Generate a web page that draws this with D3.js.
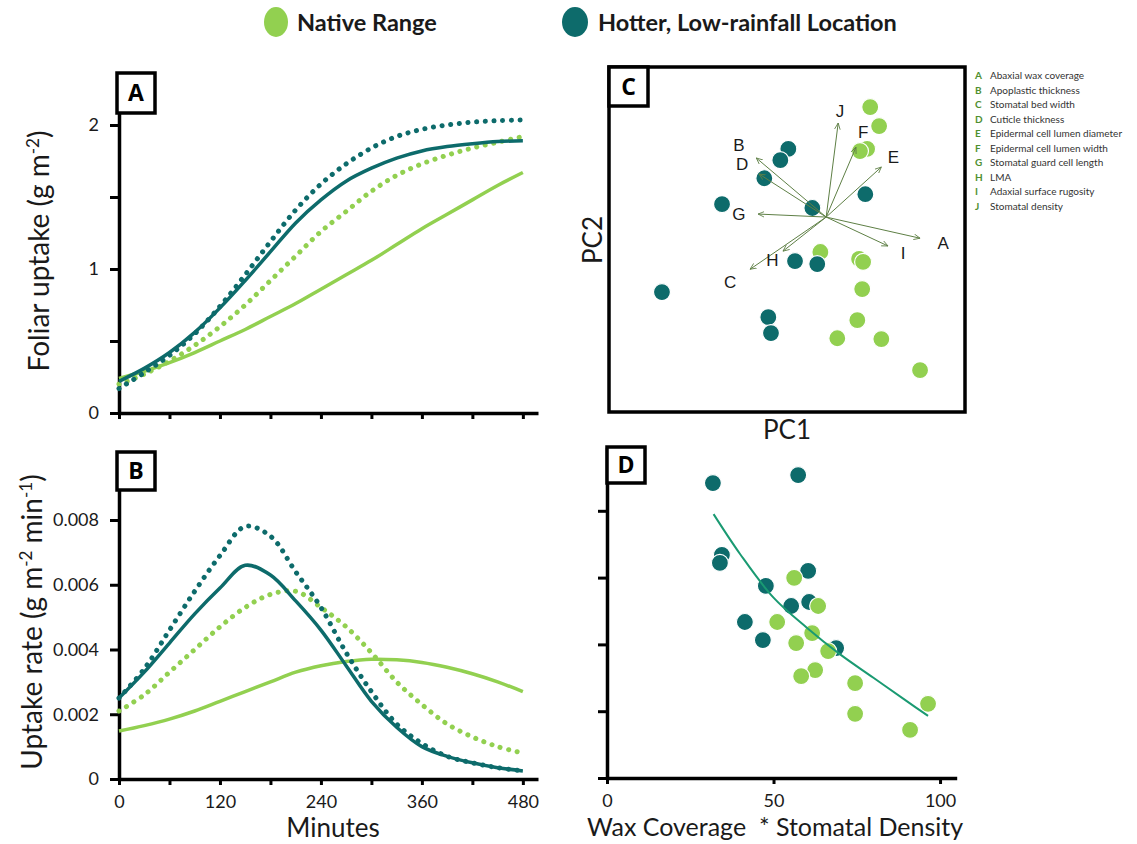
<!DOCTYPE html>
<html>
<head>
<meta charset="utf-8">
<script src="https://cdn.jsdelivr.net/npm/d3@7"></script>
<style>
  body { margin: 0; background: #fff; }
</style>
</head>
<body>
<div id="chart"></div>
<script>
// ---- data ----
const minutes = [0, 30, 60, 90, 120, 150, 180, 210, 240, 270, 300, 330, 360, 390, 420, 450, 480];
const minuteTicks = [0, 60, 120, 180, 240, 300, 360, 420, 480];

// A: foliar uptake (g m-2)
const nativeSolidA  = [0.24, 0.29, 0.35, 0.42, 0.50, 0.58, 0.67, 0.76, 0.86, 0.96, 1.06, 1.17, 1.28, 1.38, 1.48, 1.58, 1.67];
const nativeDottedA = [0.20, 0.27, 0.36, 0.47, 0.60, 0.75, 0.92, 1.09, 1.26, 1.40, 1.54, 1.65, 1.73, 1.79, 1.84, 1.88, 1.92];
const hotterSolidA  = [0.22, 0.31, 0.42, 0.56, 0.73, 0.92, 1.12, 1.32, 1.48, 1.61, 1.70, 1.77, 1.82, 1.85, 1.87, 1.885, 1.89];
const hotterDottedA = [0.17, 0.28, 0.40, 0.55, 0.74, 0.96, 1.19, 1.41, 1.59, 1.73, 1.84, 1.92, 1.97, 2.00, 2.02, 2.03, 2.035];
const ticksA = [0, 0.5, 1, 1.5, 2];

// B: uptake rate (g m-2 min-1)
const nativeSolidB  = [0.00148, 0.00165, 0.00185, 0.0021, 0.0024, 0.0027, 0.0030, 0.0033, 0.0035, 0.00363, 0.0037, 0.00368, 0.0036, 0.00345, 0.00325, 0.0030, 0.0027];
const nativeDottedB = [0.0021, 0.0026, 0.0033, 0.0040, 0.0047, 0.0053, 0.0057, 0.0058, 0.0053, 0.0047, 0.0039, 0.0030, 0.0023, 0.0017, 0.0013, 0.0010, 0.0008];
const hotterSolidB  = [0.0025, 0.0033, 0.0042, 0.0051, 0.0059, 0.0066, 0.0063, 0.0055, 0.0046, 0.0035, 0.0024, 0.0016, 0.0010, 0.0007, 0.0005, 0.00035, 0.00025];
const hotterDottedB = [0.0025, 0.0034, 0.0046, 0.0058, 0.0069, 0.0078, 0.0075, 0.0064, 0.0053, 0.0039, 0.0027, 0.0017, 0.0011, 0.0007, 0.0005, 0.00035, 0.00025];
const ticksB = [0, 0.002, 0.004, 0.006, 0.008];

// C: PCA scores and loadings
const nativePC1 = [0.92, 0.99, 1.19, 0.76, -0.13, 0.74, 0.83, 0.81, 0.70, 0.25, 1.24, 2.11];
const nativePC2 = [1.58, 2.55, 2.11, 1.53, -0.81, -0.97, -1.04, -1.67, -2.39, -2.81, -2.83, -3.55];
const hotterPC1 = [-0.85, -1.03, -1.39, -2.34, -0.31, 0.88, -0.70, -0.20, -3.69, -1.30, -1.24];
const hotterPC2 = [1.58, 1.32, 0.90, 0.30, 0.21, 0.53, -1.02, -1.09, -1.74, -2.32, -2.69];
const traitCodes = ["A", "B", "C", "D", "E", "F", "G", "H", "I", "J"];
const traitNames = ["Abaxial wax coverage", "Apoplastic thickness", "Stomatal bed width", "Cuticle thickness",
  "Epidermal cell lumen diameter", "Epidermal cell lumen width", "Stomatal guard cell length", "LMA",
  "Adaxial surface rugosity", "Stomatal density"];
const loadPC1 = [2.11, -1.57, -1.71, -1.51, 1.24, 0.67, -1.53, -0.97, 1.39, 0.27];
const loadPC2 = [-0.49, 1.37, -1.21, 1.00, 1.16, 1.62, 0.07, -0.79, -0.67, 2.18];
const labelPC1 = [2.63, -1.96, -2.16, -1.89, 1.51, 0.83, -1.96, -1.21, 1.73, 0.31];
const labelPC2 = [-0.60, 1.67, -1.51, 1.23, 1.39, 1.97, 0.07, -1.00, -0.83, 2.46];

// D: uptake rate vs wax coverage * stomatal density
const hotterWax  = [31.8, 57.4, 34.5, 33.9, 60.4, 47.7, 55.3, 60.7, 41.4, 46.8, 68.8];
const hotterRate = [0.00883, 0.00907, 0.00668, 0.00644, 0.00620, 0.00575, 0.00515, 0.00527, 0.00467, 0.00413, 0.00389];
const nativeWax  = [56.2, 63.4, 51.1, 61.6, 56.8, 66.4, 62.5, 58.3, 74.5, 74.5, 91.0, 96.4];
const nativeRate = [0.00599, 0.00515, 0.00467, 0.00434, 0.00404, 0.00380, 0.00323, 0.00305, 0.00284, 0.00192, 0.00144, 0.00222];
const fitWax  = [32, 40, 50, 60, 70, 80, 90, 96.4];
const fitRate = [0.0079, 0.0067, 0.0054, 0.0045, 0.0037, 0.0030, 0.0023, 0.00186];
const ticksD = [0, 0.002, 0.004, 0.006, 0.008];
const waxTicks = [0, 50, 100];

const GREEN = "#92d050";
const TEAL = "#0d6b6b";
const FONT = "Lato, 'Open Sans', sans-serif";

const svg = d3.select("#chart")
    .append("svg")
    .attr("width", 1137)
    .attr("height", 844)
    .style("font-family", FONT);

function styleAxis(g) {
    g.select(".domain").attr("stroke", "#000").attr("stroke-width", 3.5);
    g.selectAll(".tick line").attr("stroke", "#000").attr("stroke-width", 3);
    g.selectAll(".tick text")
        .attr("font-family", FONT)
        .attr("font-size", 18)
        .attr("fill", "#1a1a1a");
}

function panelTag(x, y, w, h, letter) {
    svg.append("rect")
        .attr("x", x).attr("y", y).attr("width", w).attr("height", h)
        .attr("fill", "#fff").attr("stroke", "#000").attr("stroke-width", 3.5);
    svg.append("text")
        .attr("x", x + w / 2).attr("y", y + h / 2 + 8)
        .attr("text-anchor", "middle")
        .attr("font-size", 23).attr("font-weight", "bold")
        .attr("font-family", "'Open Sans', sans-serif")
        .text(letter);
}

function drawCurve(values, x, y, color, dotted) {
    const line = d3.line()
        .x((d, i) => x(minutes[i]))
        .y(d => y(d))
        .curve(d3.curveCatmullRom.alpha(0.5));
    const path = svg.append("path")
        .datum(values)
        .attr("fill", "none")
        .attr("stroke", color)
        .attr("d", line);
    if (dotted) {
        path.attr("stroke-width", 5)
            .attr("stroke-linecap", "round")
            .attr("stroke-dasharray", "0.1 8.6");
    } else {
        path.attr("stroke-width", 3.5);
    }
}

// ---- top legend ----
svg.append("ellipse").attr("cx", 276).attr("cy", 22).attr("rx", 12).attr("ry", 15).attr("fill", GREEN);
svg.append("text").attr("x", 297).attr("y", 31).attr("font-size", 23.5).attr("font-weight", "bold")
    .attr("fill", "#1a1a1a").text("Native Range");
svg.append("ellipse").attr("cx", 575).attr("cy", 22).attr("rx", 13).attr("ry", 15).attr("fill", TEAL);
svg.append("text").attr("x", 598).attr("y", 31).attr("font-size", 23.5).attr("font-weight", "bold")
    .attr("fill", "#1a1a1a").text("Hotter, Low-rainfall Location");

// ---- panel A ----
const xTime = d3.scaleLinear().domain([0, 498]).range([119, 538]);
const yA = d3.scaleLinear().domain([0, 2.3]).range([413, 81.8]);

svg.append("g")
    .attr("transform", "translate(0,413)")
    .call(d3.axisBottom(xTime).tickValues(minuteTicks).tickSize(6).tickSizeOuter(0).tickFormat(""))
    .call(styleAxis);
svg.append("g")
    .attr("transform", "translate(119,0)")
    .call(d3.axisLeft(yA).tickValues(ticksA).tickSize(9).tickPadding(11).tickSizeOuter(0)
        .tickFormat(d => Number.isInteger(d) ? d : ""))
    .call(styleAxis);

drawCurve(nativeSolidA, xTime, yA, GREEN, false);
drawCurve(nativeDottedA, xTime, yA, GREEN, true);
drawCurve(hotterSolidA, xTime, yA, TEAL, false);
drawCurve(hotterDottedA, xTime, yA, TEAL, true);
panelTag(117, 73, 38, 40, "A");

const titleA = svg.append("text")
    .attr("transform", "translate(49,251) rotate(-90)")
    .attr("text-anchor", "middle")
    .attr("font-size", 28).attr("fill", "#1a1a1a");
titleA.append("tspan").text("Foliar uptake (g m");
titleA.append("tspan").attr("dy", -10).attr("font-size", 17).text("-2");
titleA.append("tspan").attr("dy", 10).text(")");

// ---- panel B ----
const yB = d3.scaleLinear().domain([0, 0.0099]).range([779, 779 - 0.0099 * 32375]);

svg.append("g")
    .attr("transform", "translate(0,779)")
    .call(d3.axisBottom(xTime).tickValues(minuteTicks).tickSize(6).tickPadding(10).tickSizeOuter(0)
        .tickFormat(d => d % 120 === 0 ? d : ""))
    .call(styleAxis);
svg.append("g")
    .attr("transform", "translate(119,0)")
    .call(d3.axisLeft(yB).tickValues(ticksB).tickSize(9).tickPadding(11).tickSizeOuter(0)
        .tickFormat(d => d === 0 ? "0" : d3.format(".3f")(d)))
    .call(styleAxis);

drawCurve(nativeSolidB, xTime, yB, GREEN, false);
drawCurve(nativeDottedB, xTime, yB, GREEN, true);
drawCurve(hotterSolidB, xTime, yB, TEAL, false);
drawCurve(hotterDottedB, xTime, yB, TEAL, true);
panelTag(117, 452, 38, 38, "B");

const titleB = svg.append("text")
    .attr("transform", "translate(42,622) rotate(-90)")
    .attr("text-anchor", "middle")
    .attr("font-size", 28).attr("fill", "#1a1a1a");
titleB.append("tspan").text("Uptake rate (g m");
titleB.append("tspan").attr("dy", -10).attr("font-size", 17).text("-2");
titleB.append("tspan").attr("dy", 10).text(" min");
titleB.append("tspan").attr("dy", -10).attr("font-size", 17).text("-1");
titleB.append("tspan").attr("dy", 10).text(")");

svg.append("text").attr("x", 333).attr("y", 837).attr("text-anchor", "middle")
    .attr("font-size", 26).attr("fill", "#1a1a1a").text("Minutes");

// ---- panel C ----
const xPC = d3.scaleLinear().domain([-4.88, 3.12]).range([609, 965]);
const yPC = d3.scaleLinear().domain([-4.52, 3.48]).range([412, 67]);

svg.append("rect")
    .attr("x", xPC.range()[0]).attr("y", yPC.range()[1])
    .attr("width", xPC.range()[1] - xPC.range()[0])
    .attr("height", yPC.range()[0] - yPC.range()[1])
    .attr("fill", "none").attr("stroke", "#000").attr("stroke-width", 3.5);

svg.append("defs").append("marker")
    .attr("id", "arrow")
    .attr("viewBox", "0 0 10 10")
    .attr("refX", 9).attr("refY", 5)
    .attr("markerWidth", 7).attr("markerHeight", 7)
    .attr("markerUnits", "userSpaceOnUse")
    .attr("orient", "auto")
    .append("path")
    .attr("d", "M0,1 L9,5 L0,9")
    .attr("fill", "none").attr("stroke", "#5e7f45").attr("stroke-width", 1.2);

function drawScores(pc1, pc2, color) {
    svg.append("g").selectAll("circle")
        .data(pc1)
        .enter()
        .append("circle")
        .attr("cx", d => xPC(d))
        .attr("cy", (d, i) => yPC(pc2[i]))
        .attr("r", 8.5)
        .attr("fill", color)
        .attr("stroke", "#fff").attr("stroke-width", 1.2);
}
drawScores(nativePC1, nativePC2, GREEN);
drawScores(hotterPC1, hotterPC2, TEAL);

svg.append("g").selectAll("line")
    .data(loadPC1)
    .enter()
    .append("line")
    .attr("x1", xPC(0)).attr("y1", yPC(0))
    .attr("x2", d => xPC(d))
    .attr("y2", (d, i) => yPC(loadPC2[i]))
    .attr("stroke", "#5e7f45").attr("stroke-width", 1)
    .attr("marker-end", "url(#arrow)");

svg.append("g").selectAll("text")
    .data(traitCodes)
    .enter()
    .append("text")
    .attr("x", (d, i) => xPC(labelPC1[i]))
    .attr("y", (d, i) => yPC(labelPC2[i]) + 6)
    .attr("text-anchor", "middle")
    .attr("font-family", "'Liberation Sans', Arial, sans-serif")
    .attr("font-size", 17)
    .attr("fill", "#1a1a1a")
    .text(d => d);

panelTag(609, 67, 39, 39, "C");

svg.append("text").attr("transform", "translate(602,240) rotate(-90)").attr("text-anchor", "middle")
    .attr("font-size", 26).attr("fill", "#1a1a1a").text("PC2");
svg.append("text").attr("x", 787).attr("y", 439).attr("text-anchor", "middle")
    .attr("font-size", 26).attr("fill", "#1a1a1a").text("PC1");

const traitLegend = svg.append("g").attr("font-size", 10);
traitCodes.forEach((code, i) => {
    const y = 79 + i * 14.5;
    traitLegend.append("text").attr("x", 975).attr("y", y)
        .attr("fill", "#4f8f2f").attr("font-weight", "bold").text(code);
    traitLegend.append("text").attr("x", 990).attr("y", y)
        .attr("fill", "#333").text(traitNames[i]);
});

// ---- panel D ----
const xD = d3.scaleLinear().domain([0, 105]).range([607, 956.7]);
const yD = d3.scaleLinear().domain([0, 0.0099]).range([778, 778 - 0.0099 * 33400]);

svg.append("g")
    .attr("transform", "translate(0,778)")
    .call(d3.axisBottom(xD).tickValues(waxTicks).tickSize(6).tickPadding(10).tickSizeOuter(0))
    .call(styleAxis);
svg.append("g")
    .attr("transform", "translate(607,0)")
    .call(d3.axisLeft(yD).tickValues(ticksD).tickSize(9).tickSizeOuter(0).tickFormat(""))
    .call(styleAxis);

function drawD(xs, ys, color) {
    svg.append("g").selectAll("circle")
        .data(xs)
        .enter()
        .append("circle")
        .attr("cx", d => xD(d))
        .attr("cy", (d, i) => yD(ys[i]))
        .attr("r", 8.5)
        .attr("fill", color)
        .attr("stroke", "#fff").attr("stroke-width", 1.2);
}
drawD(hotterWax, hotterRate, TEAL);
drawD(nativeWax, nativeRate, GREEN);

svg.append("path")
    .datum(fitWax)
    .attr("fill", "none")
    .attr("stroke", "#1a9a72")
    .attr("stroke-width", 2)
    .attr("d", d3.line().x(d => xD(d)).y((d, i) => yD(fitRate[i])).curve(d3.curveCatmullRom.alpha(0.5)));

panelTag(607, 447, 38, 36, "D");

svg.append("text").attr("x", 587).attr("y", 836)
    .attr("font-size", 25).attr("fill", "#1a1a1a")
    .attr("xml:space", "preserve")
    .text("Wax Coverage  * Stomatal Density");
</script>
</body>
</html>
